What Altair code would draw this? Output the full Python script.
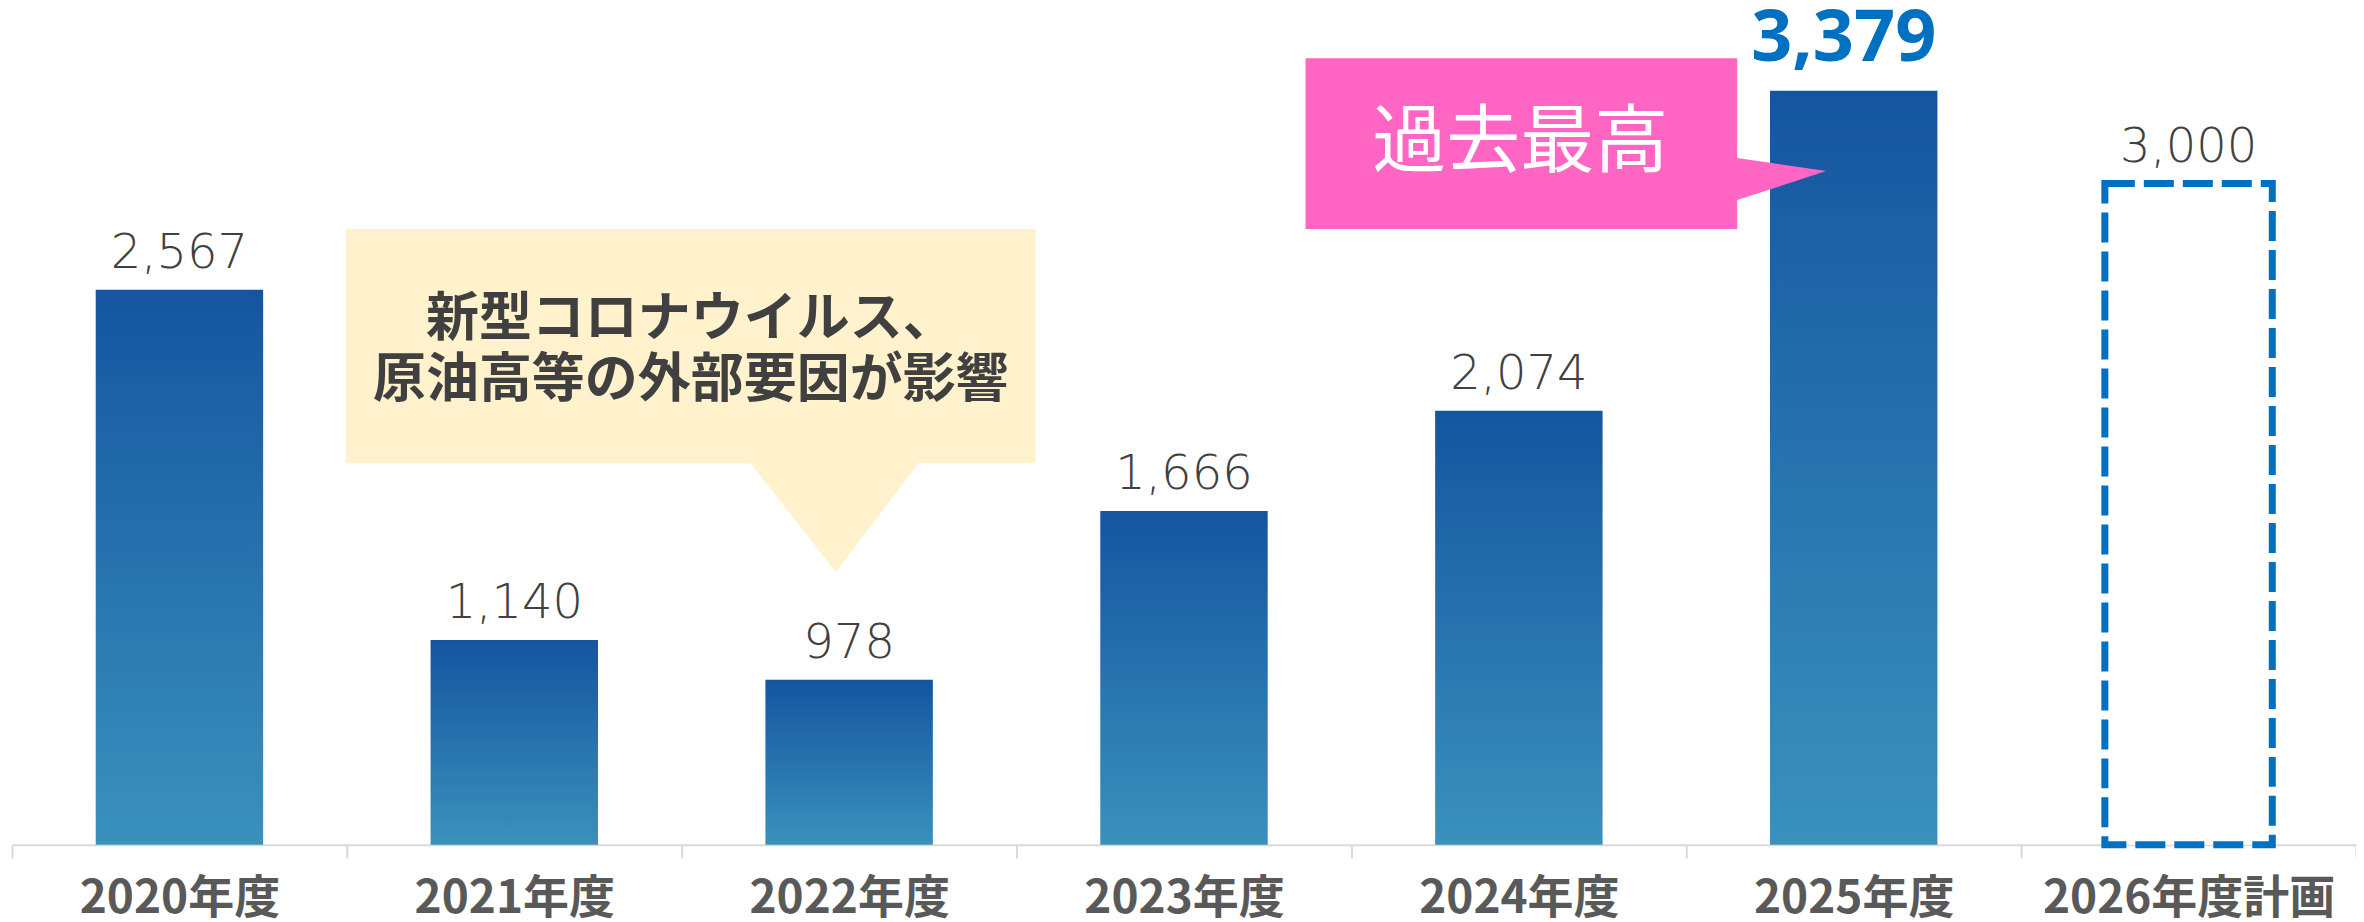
import json
import altair as alt
import pandas as pd

# ---- data ----
CATEGORIES = ["2020年度", "2021年度", "2022年度", "2023年度", "2024年度", "2025年度", "2026年度計画"]
VALUES = [2567, 1140, 978, 1666, 2074, 3379, 3000]
KINDS = ["actual", "actual", "actual", "actual", "actual", "record", "plan"]

AXIS_FLOOR = 305       # value at the category axis line
AXIS_TOP = 3715        # value at the top of the plot area

# ---- annotation callouts (data units: x in category slots 0..7, y in values) ----
YELLOW_LINES = ["新型コロナウイルス、", "原油高等の外部要因が影響"]
YELLOW_LINE_V = [2444, 2195]
YELLOW_TEXT_U = 2.027
YELLOW_BOX = {"u1": [0.997], "u2": [3.057], "v1": [1861.5], "v2": [2815]}
YELLOW_PTR_U = [2.20, 2.46, 2.713]
YELLOW_PTR_V = [1870, 1870, 1870]
YELLOW_PTR_V2 = [1870, 1417.5, 1870]

PINK_TEXT = ["過去最高"]
PINK_TEXT_U = [4.504]
PINK_TEXT_V = [3161]
PINK_BOX = {"u1": [3.863], "u2": [5.152], "v1": [2815], "v2": [3511]}
PINK_PTR_V = [2933, 3051, 3104]
PINK_PTR_U = [5.14, 5.14, 5.14]
PINK_PTR_U2 = [5.152, 5.418, 5.152]

N = len(CATEGORIES)
PLOT_W = 2345
PLOT_H = 837

df = pd.DataFrame({
    "year": CATEGORIES,
    "value": VALUES,
    "kind": KINDS,
    "label": [f"{v:,}" for v in VALUES],
})

y_enc = alt.Y("value:Q", scale=alt.Scale(domain=[AXIS_FLOOR, AXIS_TOP], zero=False, nice=False), axis=None)
band_scale = alt.Scale(domain=CATEGORIES, paddingInner=0.5, paddingOuter=0.25)
x_band = alt.X("year:N", sort=CATEGORIES, scale=band_scale, axis=None)

base = alt.Chart(df)

gradient = alt.Gradient(
    gradient="linear",
    stops=[alt.GradientStop(color="#1555A0", offset=0), alt.GradientStop(color="#3A91BC", offset=1)],
    x1=0, x2=0, y1=0, y2=1,
)

bars = base.transform_filter(alt.datum.kind != "plan").mark_bar(color=gradient).encode(
    x=x_band, y=y_enc, y2=alt.datum(AXIS_FLOOR)
)

plan = base.transform_filter(alt.datum.kind == "plan").mark_bar(
    fill="white", stroke="#0070C0", strokeWidth=7, strokeDash=[30, 9]
).encode(x=x_band, y=y_enc, y2=alt.datum(AXIS_FLOOR))

labels = base.transform_filter(alt.datum.kind != "record").mark_text(
    font="DejaVu Sans", fontSize=48, fontWeight=300, color="#404040", baseline="alphabetic", dy=-22
).encode(x=x_band, y=y_enc, text="label:N")

record_label = base.transform_filter(alt.datum.kind == "record").mark_text(
    font="Noto Sans", fontSize=72, fontWeight="bold", color="#0070C0", baseline="alphabetic", dy=-30, dx=-10
).encode(x=x_band, y=y_enc, text="label:N")

main = alt.layer(bars, plan, labels, record_label)

# ---- slot scale: ticks at category boundaries, labels centred in each slot ----
u_scale = alt.Scale(domain=[0, N], nice=False, zero=False)
v_scale = alt.Scale(domain=[AXIS_FLOOR, AXIS_TOP], zero=False, nice=False)
label_expr = f"datum.value < {N} ? {json.dumps(CATEGORIES, ensure_ascii=False)}[datum.value] : ''"
u_axis = alt.Axis(
    title=None, values=list(range(N + 1)), labelExpr=label_expr,
    labelOffset=PLOT_W / N / 2, labelFlush=False, labelOverlap=False, labelLimit=0,
    labelAngle=0, labelFont="Noto Sans CJK JP", labelFontSize=46, labelFontWeight="bold",
    labelColor="#595959", labelPadding=19,
    domainColor="#D9D9D9", domainWidth=2,
    ticks=True, tickColor="#D9D9D9", tickWidth=2, tickSize=13, grid=False,
)


def ux(field):
    return alt.X(field, scale=u_scale, axis=u_axis)


def vy(field):
    return alt.Y(field, scale=v_scale, axis=None)


ybox = alt.Chart(pd.DataFrame(YELLOW_BOX)).mark_rect(color="#FFF2CC").encode(
    x=ux("u1:Q"), x2="u2:Q", y=vy("v1:Q"), y2="v2:Q",
)
yptr = alt.Chart(pd.DataFrame({"u": YELLOW_PTR_U, "v": YELLOW_PTR_V, "v2": YELLOW_PTR_V2})).mark_area(
    color="#FFF2CC", opacity=1
).encode(x=ux("u:Q"), y=vy("v:Q"), y2="v2:Q")
ytext = alt.Chart(pd.DataFrame({"t": YELLOW_LINES, "v": YELLOW_LINE_V, "u": [YELLOW_TEXT_U] * 2})).mark_text(
    font="Noto Sans CJK JP", fontSize=53, fontWeight="bold", color="#404040", baseline="middle", align="center"
).encode(x=ux("u:Q"), y=vy("v:Q"), text="t:N")

pbox = alt.Chart(pd.DataFrame(PINK_BOX)).mark_rect(color="#FF66C4").encode(
    x=ux("u1:Q"), x2="u2:Q", y=vy("v1:Q"), y2="v2:Q",
)
pptr = alt.Chart(pd.DataFrame({"v": PINK_PTR_V, "u": PINK_PTR_U, "u2": PINK_PTR_U2})).mark_area(
    color="#FF66C4", opacity=1, orient="horizontal"
).encode(y=vy("v:Q"), x=ux("u:Q"), x2="u2:Q")
ptext = alt.Chart(pd.DataFrame({"t": PINK_TEXT, "u": PINK_TEXT_U, "v": PINK_TEXT_V})).mark_text(
    font="Noto Sans CJK JP", fontSize=74, fontWeight="normal", color="white", baseline="middle", align="center"
).encode(x=ux("u:Q"), y=vy("v:Q"), text="t:N")

ann = alt.layer(ybox, yptr, ytext, pbox, pptr, ptext)

chart = alt.layer(main, ann).resolve_scale(x="independent").properties(
    width=PLOT_W, height=PLOT_H,
    autosize=alt.AutoSizeParams(type="none"),
    padding={"left": 4, "top": 0, "right": 0, "bottom": 77},
).configure_view(stroke=None)

chart.save("out.html", embed_options={"renderer": "svg", "actions": False})
